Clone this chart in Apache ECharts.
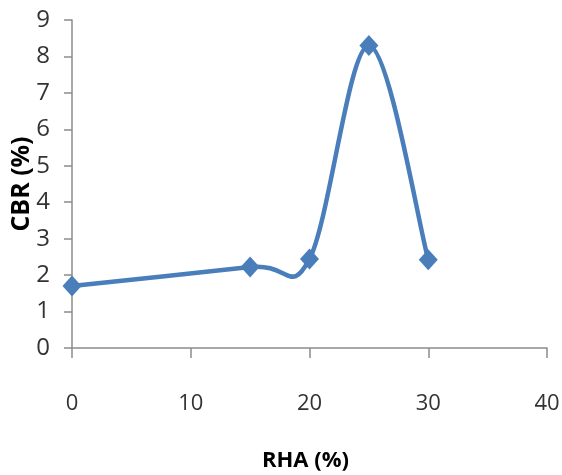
<!DOCTYPE html>
<html>
<head>
<meta charset="utf-8">
<script src="https://cdn.jsdelivr.net/npm/echarts@6/dist/echarts.min.js"></script>
<style>
  html, body { margin: 0; padding: 0; background: #fff; }
  #chart { width: 562px; height: 475px; }
</style>
</head>
<body>
<div id="chart"></div>
<script>
// RHA content (%) and the measured CBR (%)
var rhaPercent = [0, 15, 20, 25, 30];
var cbrPercent = [1.7, 2.22, 2.44, 8.3, 2.42];

var xTicks = { min: 0, max: 40, interval: 10 };
var yTicks = { min: 0, max: 9, interval: 1 };

var points = rhaPercent.map(function (x, i) { return [x, cbrPercent[i]]; });

var labelFont = '"Open Sans", "Liberation Sans", sans-serif';
var axisGrey = '#8c8c8c';
var lineBlue = '#4a7ebb';

// Smoothed connecting curve: cubic Bezier segments with Catmull-Rom style
// control points (1/6 of the neighbour span), computed in pixel space.
function renderSmoothSegment(params, api) {
  var i = params.dataIndex;
  var n = points.length;
  if (i >= n - 1) return null;
  function px(k) {
    k = Math.max(0, Math.min(n - 1, k));
    return api.coord(points[k]);
  }
  var p0 = px(i - 1), p1 = px(i), p2 = px(i + 1), p3 = px(i + 2);
  return {
    type: 'bezierCurve',
    shape: {
      x1: p1[0], y1: p1[1],
      x2: p2[0], y2: p2[1],
      cpx1: p1[0] + (p2[0] - p0[0]) / 6,
      cpy1: p1[1] + (p2[1] - p0[1]) / 6,
      cpx2: p2[0] - (p3[0] - p1[0]) / 6,
      cpy2: p2[1] - (p3[1] - p1[1]) / 6
    },
    style: { stroke: lineBlue, lineWidth: 4.5, fill: null, lineCap: 'round' }
  };
}

var chart = echarts.init(document.getElementById('chart'), null, { renderer: 'canvas' });
chart.setOption({
  animation: false,
  backgroundColor: '#ffffff',
  grid: { left: 72, right: 15, top: 20, bottom: 127, containLabel: false, outerBoundsMode: 'none' },
  xAxis: {
    type: 'value',
    min: xTicks.min, max: xTicks.max, interval: xTicks.interval,
    name: 'RHA (%)',
    nameLocation: 'middle',
    nameGap: 102,
    nameMoveOverlap: false,
    nameTextStyle: { fontFamily: labelFont, fontWeight: 'bold', fontSize: 22, color: '#000', padding: [0, 8, 0, 0] },
    axisLine: { show: true, lineStyle: { color: axisGrey, width: 1.5 } },
    axisTick: { show: true, length: 10, inside: false, lineStyle: { color: axisGrey, width: 1.5 } },
    axisLabel: { margin: 45, fontFamily: labelFont, fontSize: 22, color: '#333' },
    splitLine: { show: false }
  },
  yAxis: {
    type: 'value',
    min: yTicks.min, max: yTicks.max, interval: yTicks.interval,
    name: 'CBR (%)',
    nameLocation: 'middle',
    nameGap: 38,
    nameRotate: 90,
    nameMoveOverlap: false,
    nameTextStyle: { fontFamily: labelFont, fontWeight: 'bold', fontSize: 25, color: '#000' },
    axisLine: { show: true, lineStyle: { color: axisGrey, width: 1.5 } },
    axisTick: { show: true, length: 8, lineStyle: { color: axisGrey, width: 1.5 } },
    axisLabel: { margin: 22, fontFamily: labelFont, fontSize: 24, color: '#333' },
    splitLine: { show: false }
  },
  series: [{
    type: 'custom',
    renderItem: renderSmoothSegment,
    data: points,
    z: 2
  }, {
    type: 'scatter',
    data: points,
    symbol: 'diamond',
    symbolSize: [19, 21],
    itemStyle: { color: lineBlue, opacity: 1 },
    z: 3
  }]
});
</script>
</body>
</html>
